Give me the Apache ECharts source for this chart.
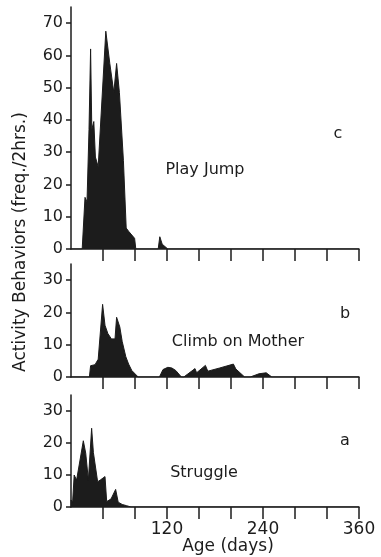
<!DOCTYPE html>
<html>
<head>
<meta charset="utf-8">
<script src="https://cdn.jsdelivr.net/npm/echarts@6/dist/echarts.min.js"></script>
<style>
html,body{margin:0;padding:0;background:#fff;}
#chart{width:381px;height:557px;}
</style>
</head>
<body>
<div id="chart"></div>
<script>
// ---- data: [age in days, frequency per 2 hrs] ----
const playJump = [
  [0,0],[14,0],[17.5,16],[20,14.6],[22.5,37],[24.5,62],[26,37],[28.5,39.5],[30.5,28.5],
  [34,25.5],[43.5,67.5],[48.5,57.5],[53.5,48.5],[55,48],[57,57.5],[60.5,48.5],[65.5,27.5],
  [69,6.5],[72,5.5],[79.5,3.3],[81,0],[109,0],[111,3.8],[114,1.5],[121,0],[360,0]
];
const climbOnMother = [
  [0,0],[23,0],[24.5,3.5],[30,3.8],[34,5.5],[39.5,22.5],[42.5,16],[46,13.5],[50.5,11.8],
  [55,11.8],[57,18.5],[61,15.5],[64,11],[68.5,6.3],[72,4],[76,2],[84,0],[110.5,0],[115,2.3],
  [121,3],[126,2.8],[131,2],[138,0],[141,0],[155,2.6],[157,1.3],[168,3.6],[171,1.8],[186,2.8],
  [203,4],[206,2.5],[217,0],[224,0],[235,1],[244,1.3],[251,0],[360,0]
];
const struggle = [
  [0,0],[0,2.2],[2,1.5],[4,10],[7,8.4],[15.4,20.7],[18.4,16.8],[21.7,8.4],[25.8,24.6],
  [28,17],[33.3,7.9],[37,8.5],[42.5,9.5],[44.6,1.7],[50,2.5],[55.8,5.5],[59,1.5],[64,0.8],
  [69.6,0.4],[75,0],[360,0]
];
const yTicksC = [0,10,20,30,40,50,60,70];
const yTicksAB = [0,10,20,30];
const xTicks = [40,80,120,160,200,240,280,320,360];
const xLabels = [120,240,360];
const panelNames = ['Play Jump','Climb on Mother','Struggle'];
const panelLetters = ['c','b','a'];
const yTitle = 'Activity Behaviors (freq./2hrs.)';
const xTitle = 'Age (days)';

const INK = '#1c1c1c';
const FONT = 'DejaVu Sans';

const grids = [
  {left:71, width:288, top:7, height:242},
  {left:71, width:288, top:264, height:113},
  {left:71, width:288, top:395, height:112}
];
const yMax = [75, 35, 35];
const yTickSets = [yTicksC, yTicksAB, yTicksAB];
const seriesData = [playJump, climbOnMother, struggle];

const xAxes = grids.map((g,i)=>({
  type:'value', gridIndex:i, min:0, max:360, interval:40,
  axisLine:{show:true, lineStyle:{color:INK, width:1.5}},
  axisTick:{show:true, inside:false, length:12, customValues:xTicks, lineStyle:{color:INK, width:1.5}},
  axisLabel:{show:i===2, customValues:xLabels, margin:14, color:INK, fontFamily:FONT, fontSize:17},
  splitLine:{show:false}
}));
const yAxes = grids.map((g,i)=>({
  type:'value', gridIndex:i, min:0, max:yMax[i], interval:10,
  axisLine:{show:true, lineStyle:{color:INK, width:1.5}},
  axisTick:{show:true, length:5, customValues:yTickSets[i], lineStyle:{color:INK, width:1.5}},
  axisLabel:{customValues:yTickSets[i], margin:8, color:INK, fontFamily:FONT, fontSize:16},
  splitLine:{show:false}
}));
const series = seriesData.map((d,i)=>({
  type:'line', xAxisIndex:i, yAxisIndex:i, data:d, symbol:'none', smooth:false,
  lineStyle:{color:INK, width:1}, areaStyle:{color:INK, opacity:1}, silent:true, animation:false
}));

const namePos = [[205,170],[238,342],[204,473]];
const letterPos = [[338,134],[345,314],[345,441]];
const graphics = [];
panelNames.forEach((t,i)=>{
  graphics.push({type:'text', x:namePos[i][0], y:namePos[i][1],
    style:{text:t, fill:INK, font:'16px "'+FONT+'"', align:'center', verticalAlign:'middle'}});
  graphics.push({type:'text', x:letterPos[i][0], y:letterPos[i][1],
    style:{text:panelLetters[i], fill:INK, font:'16px "'+FONT+'"', align:'center', verticalAlign:'middle'}});
});
graphics.push({type:'text', x:21, y:242, rotation:Math.PI/2,
  style:{text:yTitle, fill:INK, font:'17px "'+FONT+'"', align:'center', verticalAlign:'middle'}});
graphics.push({type:'text', x:228, y:547,
  style:{text:xTitle, fill:INK, font:'17px "'+FONT+'"', align:'center', verticalAlign:'middle'}});

const chart = echarts.init(document.getElementById('chart'), null, {renderer:'canvas'});
chart.setOption({
  animation:false,
  backgroundColor:'#fff',
  grid:grids,
  xAxis:xAxes,
  yAxis:yAxes,
  series:series,
  graphic:graphics
});
</script>
</body>
</html>
